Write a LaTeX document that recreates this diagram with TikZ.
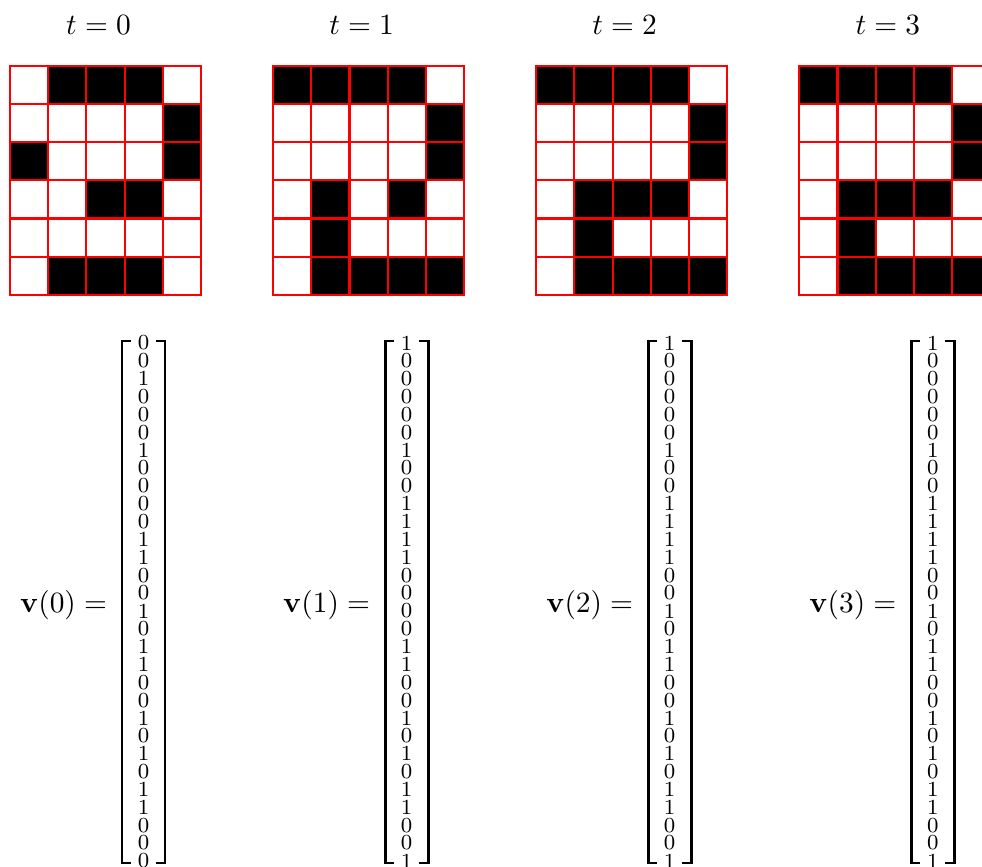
\documentclass[tikz,border=0pt]{standalone}
\begin{document}
\begin{tikzpicture}[x=0.013089cm,y=-0.013089cm,
  cellr/.style={draw=red,line width=0.75pt},
  blackcell/.style={fill=black},
  titletxt/.style={inner sep=0pt,font=\fontsize{10.95}{13}\selectfont},
  digit/.style={inner sep=0pt,font=\fontsize{8}{9}\selectfont},
  brk/.style={draw=black,line width=1.1pt},
  lab/.style={inner sep=0pt,font=\fontsize{10.95}{13}\selectfont}]
\useasboundingbox (0,0) rectangle (982,867);
\clip (0,0) rectangle (982,867);
% grids
\foreach \k/\blk in {
  0/{1/0,2/0,3/0,4/1,0/2,4/2,2/3,3/3,1/5,2/5,3/5},
  1/{0/0,1/0,2/0,3/0,4/1,4/2,1/3,3/3,1/4,1/5,2/5,3/5,4/5},
  2/{0/0,1/0,2/0,3/0,4/1,4/2,1/3,2/3,3/3,1/4,1/5,2/5,3/5,4/5},
  3/{0/0,1/0,2/0,3/0,4/1,4/2,1/3,2/3,3/3,1/4,1/5,2/5,3/5,4/5}}{
  \pgfmathsetmacro\xo{10+263.1*\k}
  \foreach \c/\r in \blk {
    \fill[blackcell] (\xo+38.2*\c,65.7+38.2*\r) rectangle ++(38.2,38.2);
  }
  \foreach \c in {0,...,4}{
    \foreach \r in {0,...,5}{
      \draw[cellr] (\xo+38.2*\c,65.7+38.2*\r) rectangle ++(38.2,38.2);
    }
  }
  \node[titletxt] (t\k) at (\xo+88.5,25) {$t=\k$};
}
% vectors
\foreach \k/\vals in {
  0/{0,0,1,0,0,0,1,0,0,0,0,1,1,0,0,1,0,1,1,0,0,1,0,1,0,1,1,0,0,0},
  1/{1,0,0,0,0,0,1,0,0,1,1,1,1,0,0,0,0,1,1,0,0,1,0,1,0,1,1,0,0,1},
  2/{1,0,0,0,0,0,1,0,0,1,1,1,1,0,0,1,0,1,1,0,0,1,0,1,0,1,1,0,0,1},
  3/{1,0,0,0,0,0,1,0,0,1,1,1,1,0,0,1,0,1,1,0,0,1,0,1,0,1,1,0,0,1}}{
  \pgfmathsetmacro\bx{122+263.1*\k}
  \foreach \d [count=\i from 0] in \vals {
    \node[digit] (v\k-\i) at (\bx+21.5,343+17.86*\i) {\d};
  }
  \draw[brk] (\bx+9,341) -- (\bx,341) -- (\bx,863) -- (\bx+9,863);
  \draw[brk] (\bx+34,341) -- (\bx+43,341) -- (\bx+43,863) -- (\bx+34,863);
  \node[lab] (l\k) at (\bx-58.5,605) {$\mathbf{v}(\k) =$};
}
\end{tikzpicture}
\end{document}
